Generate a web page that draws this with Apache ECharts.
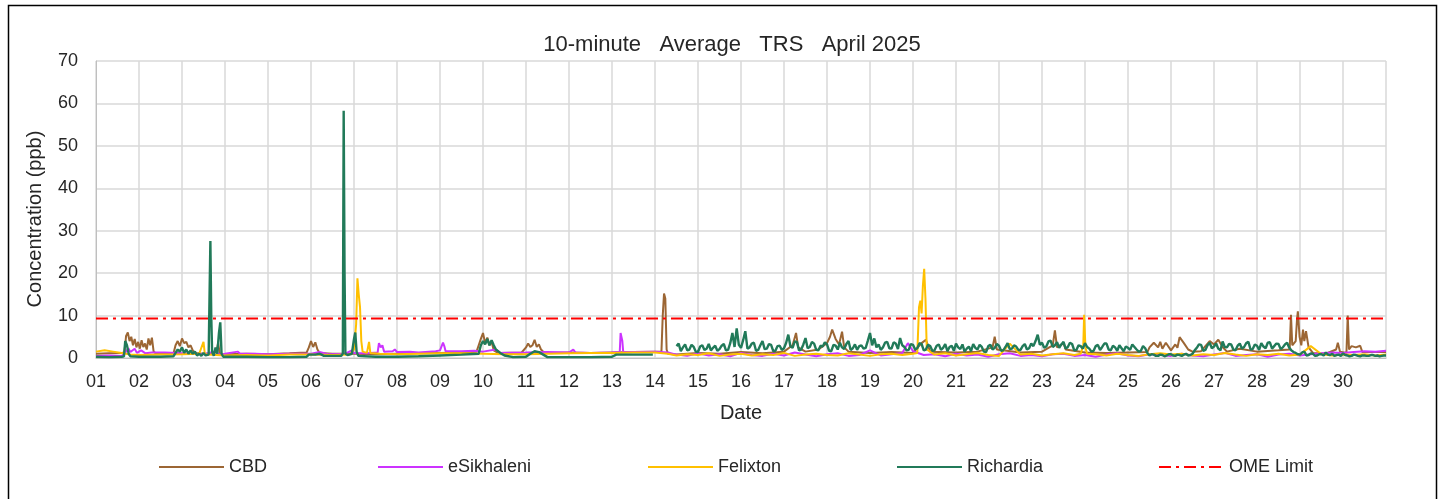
<!DOCTYPE html>
<html lang="en">
<head>
    <meta charset="UTF-8">
    <title>10-minute Average TRS April 2025</title>
    <style>
        html, body { margin: 0; padding: 0; background: #fff; }
        #chart_trs { width: 1441px; height: 499px; }
    </style>
</head>
<body>
<div id="chart_trs"></div>
<script src="https://cdn.jsdelivr.net/npm/echarts@6/dist/echarts.min.js"></script>
<script>
    // day of month (1 = 01 Apr 00:00) and ppb
    var cbdPts = [
        [1.0,1.0],[1.3,1.1],[1.6,1.2],[1.66,1.3],[1.7,5.2],[1.74,6.0],[1.78,4.0],[1.82,5.0],[1.86,3.0],[1.9,4.5],
        [1.94,2.5],[1.98,3.8],[2.02,2.2],[2.06,4.2],[2.1,2.6],[2.14,3.4],[2.18,2.0],[2.22,4.6],[2.26,3.0],[2.3,4.8],
        [2.34,1.5],[2.4,1.0],[2.8,1.0],[2.85,3.0],[2.9,4.0],[2.95,2.8],[3.0,4.6],[3.05,3.5],[3.1,3.8],[3.15,2.5],
        [3.2,3.0],[3.25,1.8],[3.3,1.2],[3.5,1.0],[3.7,1.0],[3.8,1.5],[3.84,3.5],[3.88,1.0],[4.0,0.9],[4.5,1.0],
        [5.0,0.9],[5.5,1.1],[5.9,1.3],[5.95,2.5],[6.0,4.0],[6.05,2.6],[6.1,3.7],[6.15,2.0],[6.2,1.2],[6.5,1.0],
        [7.0,1.0],[7.5,0.9],[8.0,1.0],[8.5,1.1],[9.0,1.2],[9.5,1.3],[9.85,1.5],[9.9,3.0],[9.95,4.5],[10.0,5.9],
        [10.05,3.5],[10.1,4.8],[10.15,3.0],[10.2,3.8],[10.25,1.8],[10.35,1.2],[10.9,1.3],[11.0,2.5],[11.05,3.4],[11.1,2.6],
        [11.15,3.0],[11.2,4.3],[11.25,2.6],[11.3,3.2],[11.35,2.0],[11.4,1.5],[11.5,1.2],[12.0,1.3],[12.5,1.2],[13.0,1.3],
        [13.5,1.4],[14.0,1.5],[14.15,1.5],[14.18,10.0],[14.21,15.2],[14.24,14.0],[14.27,2.0],[14.3,1.0],[14.5,0.8],[15.0,1.2],
        [15.5,1.0],[16.0,1.4],[16.5,1.1],[17.0,1.5],[17.2,3.0],[17.28,5.9],[17.33,2.5],[17.5,1.5],[17.8,2.0],[18.0,3.5],
        [18.07,5.0],[18.12,6.7],[18.2,4.5],[18.28,3.2],[18.35,6.2],[18.4,2.5],[18.5,1.5],[19.0,1.2],[19.5,1.4],[20.0,1.2],
        [20.2,3.5],[20.3,4.3],[20.4,1.5],[21.0,1.3],[21.5,1.5],[21.85,2.5],[21.9,5.0],[21.95,2.0],[22.5,1.3],[23.0,1.5],
        [23.25,3.0],[23.3,6.5],[23.35,2.5],[23.5,3.5],[23.55,2.0],[24.0,1.3],[24.5,1.2],[25.0,1.3],[25.45,1.4],[25.5,2.5],
        [25.6,3.6],[25.7,2.5],[25.75,3.8],[25.8,2.2],[25.88,3.6],[26.0,1.8],[26.1,3.2],[26.15,2.4],[26.2,4.9],[26.3,3.5],
        [26.4,2.0],[26.5,1.5],[26.7,1.6],[26.8,2.8],[26.9,4.0],[27.0,3.2],[27.1,4.3],[27.2,2.6],[27.3,1.5],[27.6,2.2],
        [28.0,1.5],[28.5,1.8],[28.76,2.0],[28.79,10.2],[28.82,3.0],[28.9,4.0],[28.93,9.0],[28.95,11.0],[28.99,5.0],[29.03,3.0],
        [29.07,6.7],[29.1,4.0],[29.14,6.3],[29.2,2.5],[29.3,1.2],[29.6,1.0],[29.84,2.0],[29.88,3.6],[29.93,1.5],[30.08,1.2],
        [30.11,10.0],[30.14,2.0],[30.2,2.8],[30.3,2.5],[30.4,2.9],[30.45,1.4],[31.0,1.4]
    ];

    var esikhaleniPts = [
        [1.0,0.5],[1.3,0.6],[1.6,0.5],[1.7,1.5],[1.75,2.3],[1.8,1.4],[1.9,2.2],[1.95,1.2],[2.05,1.8],[2.15,1.1],
        [2.3,1.3],[2.6,1.3],[2.9,1.2],[3.2,1.0],[3.5,0.9],[3.8,1.6],[3.85,0.8],[4.0,1.0],[4.3,1.5],[4.35,1.0],
        [4.7,1.0],[5.0,0.9],[5.5,1.0],[6.0,1.0],[6.2,1.4],[6.4,0.9],[6.8,1.0],[6.95,1.8],[7.0,1.2],[7.3,1.1],
        [7.55,1.3],[7.58,3.5],[7.62,2.5],[7.66,3.0],[7.7,1.5],[7.9,1.6],[7.95,2.0],[8.0,1.4],[8.3,1.5],[8.5,1.3],
        [8.9,1.6],[9.0,1.8],[9.07,3.6],[9.1,2.8],[9.13,1.6],[9.5,1.6],[9.8,1.7],[10.0,1.5],[10.3,2.0],[10.4,1.2],
        [11.0,1.3],[11.5,1.4],[12.0,1.3],[12.1,2.0],[12.15,1.3],[12.5,1.2],[13.0,1.3],[13.18,1.4],[13.2,5.9],[13.24,4.0],
        [13.26,1.5],[13.5,1.4],[14.0,1.5],[14.3,1.3],[19.88,3.5]
    ];
    // from 14.5 on, every 6 h
    var esikhaleniLate = [
        0.8,0.5,1.1,0.6,0.9,0.4,1.2,0.7,0.5,1.0,0.6,1.3,0.8,0.4,0.9,1.1,0.5,0.7,1.8,0.6,
        0.9,1.2,1.6,0.7,0.9,0.4,1.0,0.6,0.8,0.3,0.9,1.1,0.5,0.7,0.4,0.9,1.0,0.5,0.7,0.3,
        0.8,1.1,0.6,0.4,0.9,0.7,0.5,1.0,0.6,0.4,0.8,1.2,0.5,0.7,0.9,0.3,0.8,1.0,0.6,0.9,
        1.1,1.3,1.2,1.4,1.6,1.5,1.7
    ];

    var felixtonPts = [
        [1.0,1.5],[1.2,1.8],[1.4,1.5],[1.6,1.2],[1.8,0.8],[2.0,0.7],[2.5,0.8],[3.0,0.9],[3.4,1.0],[3.5,3.8],
        [3.53,1.0],[3.6,0.8],[4.0,0.6],[4.5,0.7],[5.0,0.6],[5.5,0.8],[6.0,0.8],[6.5,0.7],[6.9,0.8],[7.0,2.0],
        [7.05,8.0],[7.08,18.8],[7.11,15.0],[7.14,12.0],[7.17,4.0],[7.2,1.5],[7.3,1.2],[7.35,3.8],[7.38,1.2],[7.6,1.0],
        [8.0,0.9],[8.5,1.0],[9.0,1.1],[9.5,1.1],[10.0,1.0],[10.5,0.9],[11.0,0.9],[11.5,1.0],[12.0,1.1],[12.5,1.2],
        [13.0,1.2],[13.5,1.3],[14.0,1.3],[14.3,1.0],
        [20.1,1.2],[20.14,12.0],[20.17,13.5],[20.2,10.5],[20.23,17.0],[20.26,21.0],[20.29,14.0],[20.32,2.0],
        [23.9,1.0],[23.96,3.0],[23.98,10.2],[24.01,2.5],[24.05,1.0]
    ];
    // every 6 h: 14.5-20.0, 20.5-23.75, 24.25-31.0
    var felixtonLateA = [0.6,0.9,0.7,1.1,0.5,0.8,1.0,0.6,0.9,0.7,1.2,0.5,0.8,1.0,0.7,0.6,1.1,0.8,0.5,0.9,1.0,0.7,1.0];
    var felixtonLateB = [0.8,1.1,0.6,0.9,1.2,0.7,0.5,3.4,0.8,1.0,0.6,0.9,1.1,0.7];
    var felixtonLateC = [0.9,0.6,1.0,0.7,0.5,0.9,1.1,0.8,1.0,0.6,0.9,0.7,1.2,0.8,0.5,0.9,0.7,1.0,0.6,0.8,2.8,0.9,0.6,0.8,0.7,0.9,0.6,0.8];

    var richardiaPts = [
        [1.0,0.3],[1.3,0.2],[1.6,0.3],[1.65,0.4],[1.68,4.0],[1.72,3.0],[1.76,1.0],[1.8,0.4],[2.0,0.3],[2.5,0.3],
        [2.8,0.4],[2.85,1.2],[2.9,2.0],[2.95,1.5],[3.0,2.5],[3.05,1.2],[3.1,2.0],[3.15,1.0],[3.2,1.8],[3.25,1.0],
        [3.3,1.5],[3.35,0.6],[3.4,1.0],[3.45,0.5],[3.5,1.2],[3.55,0.6],[3.62,0.8],[3.66,27.6],[3.68,10.0],[3.7,1.5],
        [3.74,0.5],[3.78,2.5],[3.82,1.0],[3.86,6.0],[3.89,8.4],[3.92,1.0],[3.96,0.3],[4.0,0.3],[4.5,0.3],[5.0,0.2],
        [5.5,0.2],[5.9,0.3],[5.95,0.8],[6.1,0.8],[6.2,1.0],[6.3,0.5],[6.7,0.5],[6.74,1.0],[6.76,58.3],[6.78,20.0],
        [6.8,1.0],[6.85,0.7],[6.95,1.0],[7.0,4.5],[7.03,6.0],[7.06,1.5],[7.1,0.5],[7.5,0.3],[8.0,0.3],[8.5,0.4],
        [9.0,0.6],[9.5,0.8],[9.9,1.0],[9.95,3.0],[10.0,4.0],[10.05,3.2],[10.1,4.5],[10.15,3.0],[10.2,4.2],[10.25,3.0],
        [10.3,2.0],[10.4,1.2],[10.5,0.6],[10.7,0.2],[11.0,0.3],[11.1,1.0],[11.2,1.6],[11.3,1.4],[11.4,0.8],[11.5,0.2],
        [12.0,0.2],[12.5,0.2],[13.0,0.3],[13.1,0.8],[13.5,0.8],[13.95,0.8],[14.2,null]
    ];
    // from 14.5 on, every 1.2 h (20 values a day)
    var richardiaLate = [
        2.8,3.4,1.6,2.5,3.2,1.8,2.0,3.1,2.6,1.5,1.4,2.7,3.0,1.9,2.2,3.3,1.8,2.4,2.9,1.7,
        2.1,2.9,3.3,1.8,1.9,3.5,5.9,2.6,7.0,3.1,2.4,4.2,6.3,2.2,2.5,3.4,3.6,1.7,1.9,3.0,
        4.0,2.1,2.2,3.3,3.1,1.6,1.7,2.8,2.9,1.9,2.3,3.6,5.5,2.7,2.4,3.9,3.8,1.8,2.0,3.2,
        4.7,2.3,2.6,3.8,3.4,1.9,1.8,2.9,2.7,3.7,3.2,1.7,1.6,3.1,2.9,2.0,3.6,2.5,2.1,3.3,
        4.0,1.9,2.3,3.2,1.9,2.8,3.0,2.2,2.4,4.1,5.9,3.0,4.6,2.5,3.2,1.9,2.5,3.6,3.8,2.3,
        2.2,3.7,3.4,2.1,4.7,3.0,2.6,1.8,1.9,3.3,3.1,2.0,2.3,3.5,3.3,1.8,2.0,3.1,2.8,1.7,
        1.8,2.9,3.2,1.9,2.4,3.3,1.6,2.6,2.9,1.7,3.4,2.5,2.1,3.2,1.5,2.2,2.7,1.6,3.3,2.4,
        2.0,3.1,2.6,1.5,1.4,2.8,3.1,2.0,2.4,3.3,2.9,1.7,1.8,2.6,3.5,2.1,2.2,3.0,2.7,1.9,
        1.9,2.8,3.3,2.0,2.3,3.4,2.8,4.0,5.5,3.1,3.6,2.4,2.7,3.9,4.1,2.6,3.0,3.7,2.4,3.2,
        3.8,2.2,2.6,3.6,3.3,1.8,1.9,3.0,2.8,2.2,3.5,2.6,2.2,1.5,1.7,2.8,3.1,1.9,2.6,3.4,
        3.4,2.0,1.8,2.9,2.5,1.7,3.0,2.3,1.6,2.7,2.4,1.9,3.2,2.6,2.0,1.5,1.7,2.8,2.3,1.2,
        0.6,0.9,0.8,0.5,0.5,0.8,0.7,0.4,0.6,0.9,0.9,0.6,0.5,0.8,0.7,0.5,0.8,1.0,0.6,0.7,
        1.0,1.8,2.4,3.2,3.1,1.7,1.9,3.0,3.6,2.3,2.7,3.4,2.2,1.8,3.9,2.6,2.5,3.3,3.2,2.0,
        1.8,2.9,3.4,2.2,2.6,3.5,3.8,2.0,2.1,3.2,2.9,1.9,3.5,2.7,2.3,3.6,3.7,2.2,2.8,3.4,
        3.3,2.1,2.5,3.2,3.6,2.4,1.8,1.4,1.2,0.9,0.8,1.3,1.5,0.6,0.7,1.1,1.0,0.5,0.6,0.9,
        0.9,0.6,1.3,0.8,0.7,1.0,0.5,0.7,0.8,0.5,1.1,0.7,0.6,0.4,0.5,0.8,0.7,0.5,0.4,0.6,
        0.6,0.5,0.5,0.7,0.7,0.5,0.6,0.4,0.5,0.6,0.6
    ];

    var omeLimit = 9.3;
    var dayTicks = [1, 31];

    function run(start, step, vals) {
        return vals.map(function (v, i) { return [+(start + i * step).toFixed(3), v]; });
    }
    function byDay(a, b) { return a[0] - b[0]; }

    var cbdData = cbdPts;
    var esikhaleniData = esikhaleniPts.concat(run(14.5, 0.25, esikhaleniLate)).sort(byDay);
    var felixtonData = felixtonPts.concat(run(14.5, 0.25, felixtonLateA), run(20.5, 0.25, felixtonLateB), run(24.25, 0.25, felixtonLateC)).sort(byDay);
    var richardiaData = richardiaPts.concat(run(14.5, 0.05, richardiaLate));
    var omeData = [[dayTicks[0], omeLimit], [dayTicks[1], omeLimit]];

    var font = "'Liberation Sans', Arial, sans-serif";
    var txt = '#262626';

    function lineSeries(name, color, data, z, w) {
        return {
            name: name, type: 'line', data: data, symbol: 'none', z: z,
            lineStyle: { color: color, width: w }, itemStyle: { color: color },
            animation: false
        };
    }

    function legendAt(name, left) {
        return {
            data: [name], left: left, top: 453, itemWidth: 65, itemHeight: 12,
            itemStyle: { opacity: 0 },
            lineStyle: { width: 2 },
            textStyle: { fontFamily: font, fontSize: 18, color: txt }
        };
    }

    var myChart = echarts.init(document.getElementById('chart_trs'));
    myChart.setOption({
        backgroundColor: '#fff',
        title: {
            text: '10-minute   Average   TRS   April 2025',
            left: 727, top: 29, textAlign: 'center',
            textStyle: { fontFamily: font, fontSize: 22, fontWeight: 'normal', color: txt }
        },
        graphic: [{
            type: 'rect', silent: true,
            shape: { x: 8.5, y: 5.5, width: 1428, height: 600 },
            style: { fill: 'none', stroke: '#000', lineWidth: 1.5 }
        }, {
            type: 'text', silent: true, x: 35, y: 219, rotation: Math.PI / 2,
            style: {
                text: 'Concentration (ppb)', fill: txt, align: 'center', verticalAlign: 'middle',
                font: '20px ' + font
            }
        }],
        legend: [
            legendAt('CBD', 153),
            legendAt('eSikhaleni', 372),
            legendAt('Felixton', 642),
            legendAt('Richardia', 891),
            legendAt('OME Limit', 1153)
        ],
        grid: { left: 96, right: 55, top: 61, bottom: 141, containLabel: false },
        xAxis: {
            type: 'value', min: dayTicks[0], max: dayTicks[1], interval: 1,
            name: 'Date', nameLocation: 'middle', nameGap: 45,
            nameTextStyle: { fontFamily: font, fontSize: 20, color: txt },
            axisLine: { lineStyle: { color: '#bfbfbf', width: 1 } },
            axisTick: { show: false },
            axisLabel: {
                margin: 15, fontFamily: font, fontSize: 18, color: txt,
                formatter: function (v) { return v >= dayTicks[1] ? '' : (v < 10 ? '0' + v : '' + v); }
            },
            splitLine: { show: true, lineStyle: { color: '#d9d9d9', width: 1.5 } }
        },
        yAxis: {
            type: 'value', min: 0, max: 70, interval: 10,
            axisLine: { show: true, lineStyle: { color: '#bfbfbf', width: 1 } },
            axisTick: { show: false },
            axisLabel: { margin: 18, fontFamily: font, fontSize: 18, color: txt },
            splitLine: { show: true, lineStyle: { color: '#d9d9d9', width: 1.5 } }
        },
        series: [
            lineSeries('CBD', '#9C6634', cbdData, 2, 2),
            lineSeries('eSikhaleni', '#CC33FF', esikhaleniData, 3, 2),
            lineSeries('Felixton', '#FFC000', felixtonData, 4, 2),
            lineSeries('Richardia', '#217A59', richardiaData, 5, 2.4),
            {
                name: 'OME Limit', type: 'line', data: omeData, symbol: 'none', z: 6,
                lineStyle: { color: '#FF0000', width: 2, type: [12, 5, 3, 5] },
                itemStyle: { color: '#FF0000' }, animation: false
            }
        ]
    });
    window.addEventListener('resize', function () {
        myChart.resize();
    });
</script>
</body>
</html>
